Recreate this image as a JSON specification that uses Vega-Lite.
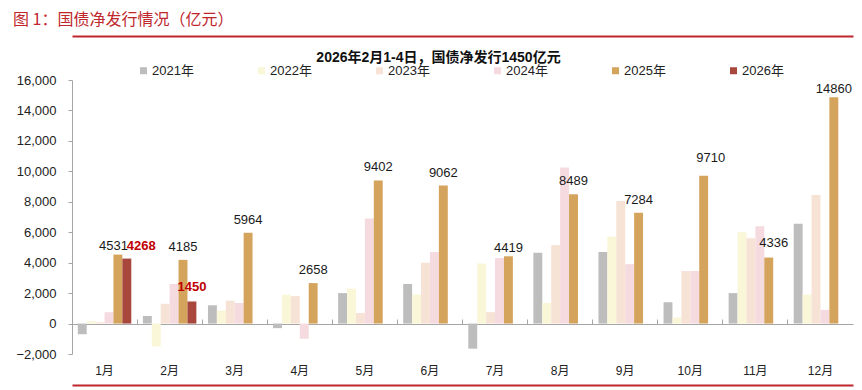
{
  "$schema": "https://vega.github.io/schema/vega-lite/v6.json",
  "autosize": {"type": "none"},
  "width": 781,
  "height": 274,
  "padding": {"left": 72, "top": 80, "right": 9, "bottom": 36},
  "background": "white",
  "title": {"text": "图 1：国债净发行情况（亿元）", "anchor": "start", "frame": "group", "dx": -59, "offset": 8, "fontSize": 16, "fontWeight": "normal", "color": "#C0272D", "font": "Noto Sans CJK SC"},
  "config": {
    "view": {"stroke": null},
    "font": "Liberation Sans, Noto Sans CJK SC",
    "text": {"font": "Liberation Sans, Noto Sans CJK SC"},
    "axisY": {"domain": true, "ticks": true, "domainColor": "#A6A6A6", "tickColor": "#A6A6A6", "domainWidth": 1, "tickWidth": 1, "tickSize": 4}
  },
  "data": {
    "values": [
      {"month": "1月", "year": "2021年", "value": -700},
      {"month": "1月", "year": "2022年", "value": 150},
      {"month": "1月", "year": "2023年", "value": 80},
      {"month": "1月", "year": "2024年", "value": 750},
      {"month": "1月", "year": "2025年", "value": 4531},
      {"month": "1月", "year": "2026年", "value": 4268},
      {"month": "2月", "year": "2021年", "value": 500},
      {"month": "2月", "year": "2022年", "value": -1500},
      {"month": "2月", "year": "2023年", "value": 1300},
      {"month": "2月", "year": "2024年", "value": 2600},
      {"month": "2月", "year": "2025年", "value": 4185},
      {"month": "2月", "year": "2026年", "value": 1450},
      {"month": "3月", "year": "2021年", "value": 1200},
      {"month": "3月", "year": "2022年", "value": 850},
      {"month": "3月", "year": "2023年", "value": 1500},
      {"month": "3月", "year": "2024年", "value": 1350},
      {"month": "3月", "year": "2025年", "value": 5964},
      {"month": "4月", "year": "2021年", "value": -300},
      {"month": "4月", "year": "2022年", "value": 1900},
      {"month": "4月", "year": "2023年", "value": 1800},
      {"month": "4月", "year": "2024年", "value": -1000},
      {"month": "4月", "year": "2025年", "value": 2658},
      {"month": "5月", "year": "2021年", "value": 2000},
      {"month": "5月", "year": "2022年", "value": 2300},
      {"month": "5月", "year": "2023年", "value": 700},
      {"month": "5月", "year": "2024年", "value": 6900},
      {"month": "5月", "year": "2025年", "value": 9402},
      {"month": "6月", "year": "2021年", "value": 2600},
      {"month": "6月", "year": "2022年", "value": 1900},
      {"month": "6月", "year": "2023年", "value": 4000},
      {"month": "6月", "year": "2024年", "value": 4700},
      {"month": "6月", "year": "2025年", "value": 9062},
      {"month": "7月", "year": "2021年", "value": -1650},
      {"month": "7月", "year": "2022年", "value": 3950},
      {"month": "7月", "year": "2023年", "value": 750},
      {"month": "7月", "year": "2024年", "value": 4300},
      {"month": "7月", "year": "2025年", "value": 4419},
      {"month": "8月", "year": "2021年", "value": 4650},
      {"month": "8月", "year": "2022年", "value": 1350},
      {"month": "8月", "year": "2023年", "value": 5150},
      {"month": "8月", "year": "2024年", "value": 10250},
      {"month": "8月", "year": "2025年", "value": 8489},
      {"month": "9月", "year": "2021年", "value": 4700},
      {"month": "9月", "year": "2022年", "value": 5700},
      {"month": "9月", "year": "2023年", "value": 8050},
      {"month": "9月", "year": "2024年", "value": 3900},
      {"month": "9月", "year": "2025年", "value": 7284},
      {"month": "10月", "year": "2021年", "value": 1400},
      {"month": "10月", "year": "2022年", "value": 400},
      {"month": "10月", "year": "2023年", "value": 3450},
      {"month": "10月", "year": "2024年", "value": 3450},
      {"month": "10月", "year": "2025年", "value": 9710},
      {"month": "11月", "year": "2021年", "value": 2000},
      {"month": "11月", "year": "2022年", "value": 6000},
      {"month": "11月", "year": "2023年", "value": 5600},
      {"month": "11月", "year": "2024年", "value": 6400},
      {"month": "11月", "year": "2025年", "value": 4336},
      {"month": "12月", "year": "2021年", "value": 6550},
      {"month": "12月", "year": "2022年", "value": 1900},
      {"month": "12月", "year": "2023年", "value": 8450},
      {"month": "12月", "year": "2024年", "value": 900},
      {"month": "12月", "year": "2025年", "value": 14860}
    ]
  },
  "layer": [
    {
      "mark": {"type": "bar"},
      "encoding": {
        "x": {
          "field": "month", "type": "nominal",
          "sort": ["1月","2月","3月","4月","5月","6月","7月","8月","9月","10月","11月","12月"],
          "scale": {"domain": ["1月","2月","3月","4月","5月","6月","7月","8月","9月","10月","11月","12月"], "paddingInner": 0, "paddingOuter": 0},
          "axis": {"orient": "top", "offset": -244, "title": null, "labels": false, "domain": true, "domainColor": "#A6A6A6", "ticks": true, "bandPosition": 0, "tickSize": 5, "tickWidth": 1, "tickOpacity": 1, "tickColor": "#A6A6A6", "grid": false}
        },
        "xOffset": {
          "field": "year", "type": "nominal",
          "sort": ["2021年","2022年","2023年","2024年","2025年","2026年"],
          "scale": {"domain": ["2021年","2022年","2023年","2024年","2025年","2026年"], "paddingInner": 0, "paddingOuter": 0.65}
        },
        "y": {
          "field": "value", "type": "quantitative",
          "scale": {"domain": [-2000, 16000], "nice": false, "zero": false},
          "axis": {"orient": "left", "title": null, "values": [-2000, 0, 2000, 4000, 6000, 8000, 10000, 12000, 14000, 16000], "labelExpr": "format(datum.value, ',')", "labelOverlap": false, "grid": false, "domain": true, "domainColor": "#A6A6A6", "ticks": true, "tickColor": "#A6A6A6", "tickSize": 4, "labelPadding": 12, "labelFontSize": 13, "labelColor": "#222222"}
        },
        "color": {
          "field": "year", "type": "nominal",
          "scale": {"domain": ["2021年","2022年","2023年","2024年","2025年","2026年"], "range": ["#BDBDBD","#FAF6D8","#F7E2D6","#F5DADF","#D4A35C","#A8473C"]},
          "legend": {"orient": "none", "legendX": 65, "legendY": -16, "direction": "horizontal", "columns": 6, "title": null, "symbolType": "square", "symbolSize": 49, "symbolStrokeWidth": 0, "labelFontSize": 13, "labelColor": "#222222", "columnPadding": 61, "gridAlign": "all", "labelOffset": 2, "padding": 0}
        }
      }
    },
    {
      "transform": [{"filter": {"and": [{"field": "year", "equal": "2025年"}, {"field": "month", "oneOf": ["2月","3月","4月","5月","6月","8月","9月"]}]}}],
      "mark": {"type": "text", "baseline": "alphabetic", "dy": -9, "fontSize": 13, "color": "#1a1a1a"},
      "encoding": {
        "x": {"field": "month", "type": "nominal", "sort": ["1月","2月","3月","4月","5月","6月","7月","8月","9月","10月","11月","12月"],
          "axis": {"orient": "bottom", "title": null, "labels": true, "labelAngle": 0, "domain": false, "ticks": false, "grid": false, "labelPadding": 11, "labelFontSize": 12, "labelColor": "#222222"}},
        "xOffset": {"field": "year", "type": "nominal", "sort": ["2021年","2022年","2023年","2024年","2025年","2026年"]},
        "y": {"field": "value", "type": "quantitative",
          "axis": {"orient": "left", "title": null, "values": [-2000, 0, 2000, 4000, 6000, 8000, 10000, 12000, 14000, 16000], "labelExpr": "format(datum.value, ',')", "labelOverlap": false, "grid": false, "domain": true, "domainColor": "#A6A6A6", "ticks": true, "tickColor": "#A6A6A6", "tickSize": 4, "labelPadding": 12, "labelFontSize": 13, "labelColor": "#222222"}},
        "text": {"field": "value", "type": "quantitative", "format": "d"}
      }
    },
    {
      "transform": [{"filter": {"and": [{"field": "year", "equal": "2025年"}, {"field": "month", "oneOf": ["7月","12月"]}]}}],
      "mark": {"type": "text", "baseline": "alphabetic", "dy": -4, "fontSize": 13, "color": "#1a1a1a"},
      "encoding": {
        "x": {"field": "month", "type": "nominal", "sort": ["1月","2月","3月","4月","5月","6月","7月","8月","9月","10月","11月","12月"],
          "axis": {"orient": "top", "offset": 44, "title": null, "labels": false, "ticks": false, "grid": false, "domain": true, "domainColor": "#C0272D", "domainWidth": 2}},
        "xOffset": {"field": "year", "type": "nominal", "sort": ["2021年","2022年","2023年","2024年","2025年","2026年"]},
        "y": {"field": "value", "type": "quantitative",
          "axis": {"orient": "left", "title": null, "values": [-2000, 0, 2000, 4000, 6000, 8000, 10000, 12000, 14000, 16000], "labelExpr": "format(datum.value, ',')", "labelOverlap": false, "grid": false, "domain": true, "domainColor": "#A6A6A6", "ticks": true, "tickColor": "#A6A6A6", "tickSize": 4, "labelPadding": 12, "labelFontSize": 13, "labelColor": "#222222"}},
        "text": {"field": "value", "type": "quantitative", "format": "d"}
      }
    },
    {
      "transform": [{"filter": {"and": [{"field": "year", "equal": "2025年"}, {"field": "month", "equal": "1月"}]}}],
      "mark": {"type": "text", "baseline": "alphabetic", "align": "right", "dx": 10, "dy": -5, "fontSize": 13, "color": "#1a1a1a"},
      "encoding": {
        "x": {"field": "month", "type": "nominal", "sort": ["1月","2月","3月","4月","5月","6月","7月","8月","9月","10月","11月","12月"],
          "axis": {"orient": "bottom", "offset": 31, "title": null, "labels": false, "ticks": false, "grid": false, "domain": true, "domainColor": "#C0272D", "domainWidth": 2}},
        "xOffset": {"field": "year", "type": "nominal", "sort": ["2021年","2022年","2023年","2024年","2025年","2026年"]},
        "y": {"field": "value", "type": "quantitative",
          "axis": {"orient": "left", "title": null, "values": [-2000, 0, 2000, 4000, 6000, 8000, 10000, 12000, 14000, 16000], "labelExpr": "format(datum.value, ',')", "labelOverlap": false, "grid": false, "domain": true, "domainColor": "#A6A6A6", "ticks": true, "tickColor": "#A6A6A6", "tickSize": 4, "labelPadding": 12, "labelFontSize": 13, "labelColor": "#222222"}},
        "text": {"field": "value", "type": "quantitative", "format": "d"}
      }
    },
    {
      "transform": [{"filter": {"and": [{"field": "year", "equal": "2025年"}, {"field": "month", "equal": "10月"}]}}],
      "mark": {"type": "text", "baseline": "alphabetic", "dx": 7, "dy": -14, "fontSize": 13, "color": "#1a1a1a"},
      "encoding": {
        "x": {"field": "month", "type": "nominal", "sort": ["1月","2月","3月","4月","5月","6月","7月","8月","9月","10月","11月","12月"], "axis": null},
        "xOffset": {"field": "year", "type": "nominal", "sort": ["2021年","2022年","2023年","2024年","2025年","2026年"]},
        "y": {"field": "value", "type": "quantitative",
          "axis": {"orient": "left", "title": null, "values": [-2000, 0, 2000, 4000, 6000, 8000, 10000, 12000, 14000, 16000], "labelExpr": "format(datum.value, ',')", "labelOverlap": false, "grid": false, "domain": true, "domainColor": "#A6A6A6", "ticks": true, "tickColor": "#A6A6A6", "tickSize": 4, "labelPadding": 12, "labelFontSize": 13, "labelColor": "#222222"}},
        "text": {"field": "value", "type": "quantitative", "format": "d"}
      }
    },
    {
      "transform": [{"filter": {"and": [{"field": "year", "equal": "2025年"}, {"field": "month", "equal": "11月"}]}}],
      "mark": {"type": "text", "baseline": "alphabetic", "dx": 5, "dy": -11, "fontSize": 13, "color": "#1a1a1a"},
      "encoding": {
        "x": {"field": "month", "type": "nominal", "sort": ["1月","2月","3月","4月","5月","6月","7月","8月","9月","10月","11月","12月"], "axis": null},
        "xOffset": {"field": "year", "type": "nominal", "sort": ["2021年","2022年","2023年","2024年","2025年","2026年"]},
        "y": {"field": "value", "type": "quantitative",
          "axis": {"orient": "left", "title": null, "values": [-2000, 0, 2000, 4000, 6000, 8000, 10000, 12000, 14000, 16000], "labelExpr": "format(datum.value, ',')", "labelOverlap": false, "grid": false, "domain": true, "domainColor": "#A6A6A6", "ticks": true, "tickColor": "#A6A6A6", "tickSize": 4, "labelPadding": 12, "labelFontSize": 13, "labelColor": "#222222"}},
        "text": {"field": "value", "type": "quantitative", "format": "d"}
      }
    },
    {
      "transform": [{"filter": {"and": [{"field": "year", "equal": "2026年"}, {"field": "month", "equal": "2月"}]}}],
      "mark": {"type": "text", "baseline": "alphabetic", "dy": -10, "fontSize": 13, "fontWeight": "bold", "color": "#C00000"},
      "encoding": {
        "x": {"field": "month", "type": "nominal", "sort": ["1月","2月","3月","4月","5月","6月","7月","8月","9月","10月","11月","12月"], "axis": null},
        "xOffset": {"field": "year", "type": "nominal", "sort": ["2021年","2022年","2023年","2024年","2025年","2026年"]},
        "y": {"field": "value", "type": "quantitative",
          "axis": {"orient": "left", "title": null, "values": [-2000, 0, 2000, 4000, 6000, 8000, 10000, 12000, 14000, 16000], "labelExpr": "format(datum.value, ',')", "labelOverlap": false, "grid": false, "domain": true, "domainColor": "#A6A6A6", "ticks": true, "tickColor": "#A6A6A6", "tickSize": 4, "labelPadding": 12, "labelFontSize": 13, "labelColor": "#222222"}},
        "text": {"field": "value", "type": "quantitative", "format": "d"}
      }
    },
    {
      "transform": [{"filter": {"and": [{"field": "year", "equal": "2026年"}, {"field": "month", "equal": "1月"}]}}],
      "mark": {"type": "text", "baseline": "alphabetic", "align": "left", "dx": 0, "dy": -9, "fontSize": 13, "fontWeight": "bold", "color": "#C00000"},
      "encoding": {
        "x": {"field": "month", "type": "nominal", "sort": ["1月","2月","3月","4月","5月","6月","7月","8月","9月","10月","11月","12月"],
          "axis": {"orient": "top", "labels": false, "ticks": false, "domain": false, "grid": false,
            "title": "2026年2月1-4日，国债净发行1450亿元", "titleX": 366, "titleY": -19, "titleAlign": "center",
            "titleBaseline": "alphabetic", "titleFontSize": 14, "titleFontWeight": "bold", "titleColor": "#111111"}},
        "xOffset": {"field": "year", "type": "nominal", "sort": ["2021年","2022年","2023年","2024年","2025年","2026年"]},
        "y": {"field": "value", "type": "quantitative",
          "axis": {"orient": "left", "title": null, "values": [-2000, 0, 2000, 4000, 6000, 8000, 10000, 12000, 14000, 16000], "labelExpr": "format(datum.value, ',')", "labelOverlap": false, "grid": false, "domain": true, "domainColor": "#A6A6A6", "ticks": true, "tickColor": "#A6A6A6", "tickSize": 4, "labelPadding": 12, "labelFontSize": 13, "labelColor": "#222222"}},
        "text": {"field": "value", "type": "quantitative", "format": "d"}
      }
    }
  ],
  "resolve": {"axis": {"x": "independent"}}
}
